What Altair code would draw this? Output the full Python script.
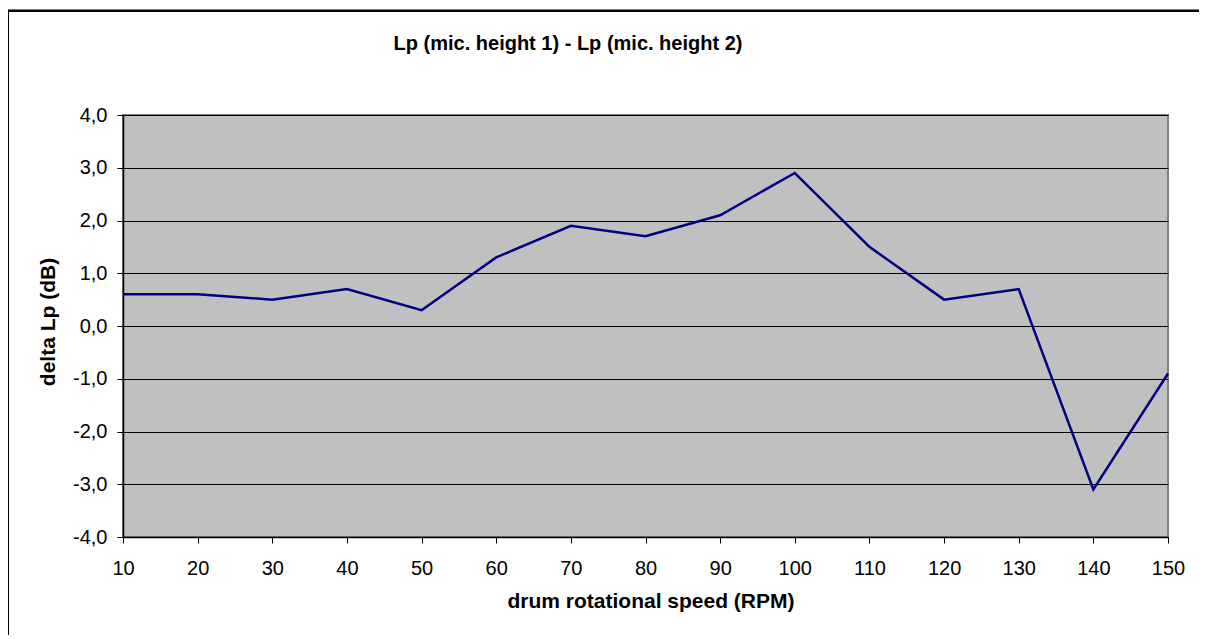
import altair as alt
import pandas as pd

rpm = [10, 20, 30, 40, 50, 60, 70, 80, 90, 100, 110, 120, 130, 140, 150]
delta_lp = [0.6, 0.6, 0.5, 0.7, 0.3, 1.3, 1.9, 1.7, 2.1, 2.9, 1.5, 0.5, 0.7, -3.1, -0.9]
y_ticks = [-4, -3, -2, -1, 0, 1, 2, 3, 4]
title_text = "Lp (mic. height 1) - Lp (mic. height 2)"
x_title = "drum rotational speed (RPM)"
y_title = "delta Lp (dB)"

df = pd.DataFrame({"rpm": rpm, "delta": delta_lp})
one = pd.DataFrame({"k": [0]})

FONT = "Liberation Sans"
W, H = 1045, 422

base = alt.Chart(df)

line = base.mark_line(color="#000080", strokeWidth=2.5).encode(
    x=alt.X(
        "rpm:Q",
        scale=alt.Scale(domain=[10, 150], nice=False, zero=False),
        axis=alt.Axis(
            values=rpm,
            title=None,
            grid=False,
            format="d",
            tickSize=6,
            tickColor="#000000",
            tickWidth=1,
            labelPadding=15,
            labelFontSize=20,
            labelFont=FONT,
            labelColor="#000000",
            domainColor="#000000",
            domainWidth=1.5,
            labelFlush=False,
        ),
    ),
    y=alt.Y(
        "delta:Q",
        scale=alt.Scale(domain=[-4, 4], nice=False),
        axis=alt.Axis(
            values=y_ticks,
            title=None,
            grid=True,
            gridColor="#000000",
            gridWidth=1,
            labelExpr="replace(replace(format(datum.value, '.1f'), '.', ','), '\u2212', '-')",
            tickSize=6,
            tickColor="#000000",
            tickWidth=1,
            labelPadding=10,
            labelFontSize=20,
            labelFont=FONT,
            labelColor="#000000",
            domainColor="#000000",
            domainWidth=1.5,
        ),
    ),
)

tchart = alt.Chart(one)

title_mark = tchart.mark_text(
    text=title_text, font=FONT, fontSize=20, fontWeight="bold",
    align="center", baseline="alphabetic", color="#000000"
).encode(x=alt.value(445), y=alt.value(-65))

xtitle_mark = tchart.mark_text(
    text=x_title, font=FONT, fontSize=21, fontWeight="bold",
    align="center", baseline="alphabetic", color="#000000"
).encode(x=alt.value(528), y=alt.value(493))

ytitle_mark = tchart.mark_text(
    text=y_title, font=FONT, fontSize=21, fontWeight="bold",
    align="center", baseline="middle", angle=270, color="#000000"
).encode(x=alt.value(-74), y=alt.value(207))

frame_left = tchart.mark_rule(color="#000000", strokeWidth=3).encode(
    x=alt.value(-115.5), y=alt.value(-105.5), y2=alt.value(520)
)
frame_top = tchart.mark_rule(color="#000000", strokeWidth=2.5).encode(
    x=alt.value(-116), x2=alt.value(1100), y=alt.value(-104.3)
)

chart = alt.layer(
    line, title_mark, xtitle_mark, ytitle_mark, frame_left, frame_top
).properties(
    width=W,
    height=H,
    autosize=alt.AutoSizeParams(type="none"),
    padding={"left": 115, "top": 107, "right": 31, "bottom": 102},
    background="#FFFFFF",
).configure_view(
    fill="#C0C0C0",
    stroke="#808080",
    strokeWidth=2,
)

chart.save("out.html", embed_options={"renderer": "svg", "actions": False})
